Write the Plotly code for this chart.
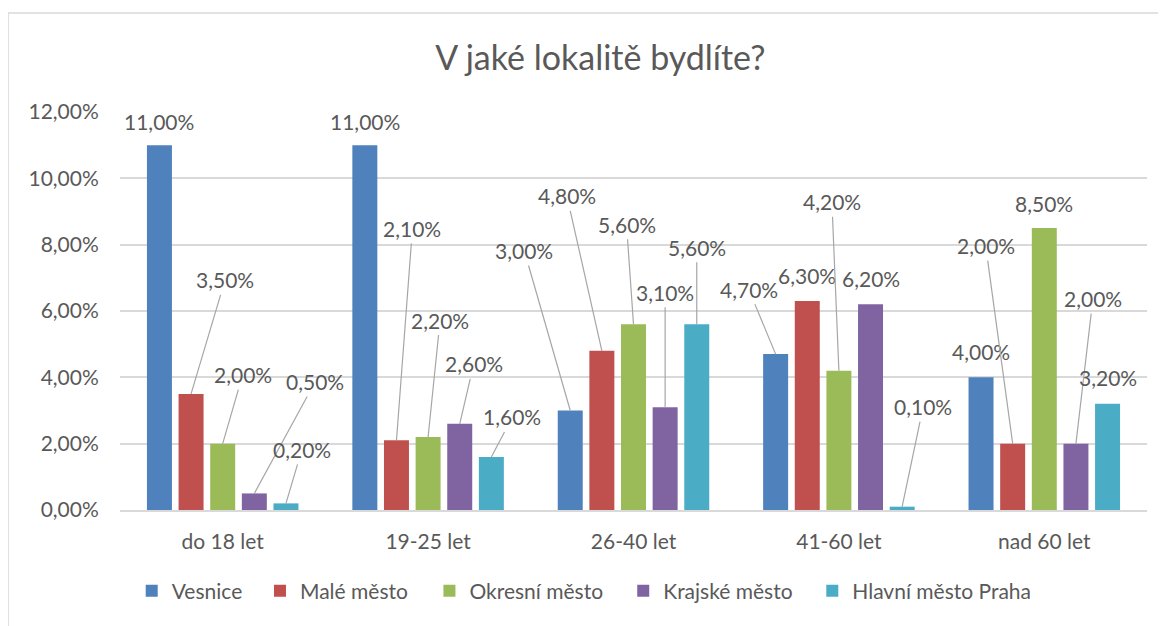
import plotly.graph_objects as go

categories = ["do 18 let", "19-25 let", "26-40 let", "41-60 let", "nad 60 let"]
series_names = ["Vesnice", "Malé město", "Okresní město", "Krajské město", "Hlavní město Praha"]
vesnice = [11.0, 11.0, 3.0, 4.7, 4.0]
male_mesto = [3.5, 2.1, 4.8, 6.3, 2.0]
okresni_mesto = [2.0, 2.2, 5.6, 4.2, 8.5]
krajske_mesto = [0.5, 2.6, 3.1, 6.2, 2.0]
praha = [0.2, 1.6, 5.6, 0.1, 3.2]
series_values = [vesnice, male_mesto, okresni_mesto, krajske_mesto, praha]
colors = ["#4F81BD", "#C0504D", "#9BBB59", "#8064A2", "#4BACC6"]
y_ticks = [0, 2, 4, 6, 8, 10, 12]

# label offsets (pixels, text centre relative to bar top) and leader-line flags
label_offsets = [
    [(0, -24), (0, -24), (-46, -160), (-27, -65), (0, -26)],
    [(34, -114), (16, -212), (-35, -155), (0, -26), (-27, -198)],
    [(20, -69), (12, -117), (-7, -100), (-7, -169), (0, -25)],
    [(61, -112), (14, -60), (0, -115), (0, -26), (17, -145)],
    [(16, -54), (21, -40), (0, -77), (21, -100), (0, -26)],
]
leader = [
    [False, False, True, True, False],
    [True, True, True, False, True],
    [True, True, True, True, False],
    [True, True, True, False, True],
    [True, True, True, True, False],
]
# legend entry positions (paper x of each legend box)
legend_x = [0.0114, 0.1363, 0.3013, 0.4900, 0.6741]

FONT = "Lato"
TXT = "#595959"
bargap = 0.23
bargroupgap = 0.21

def fmt(v):
    return f"{v:.2f}".replace(".", ",") + "%"

fig = go.Figure()
xs = list(range(len(categories)))
legend_ids = ["legend"] + [f"legend{k}" for k in range(2, len(series_names) + 1)]
for name, vals, col, lid in zip(series_names, series_values, colors, legend_ids):
    fig.add_trace(go.Bar(x=xs, y=vals, name=name, legend=lid, showlegend=True,
                         marker=dict(color=col, line=dict(width=0))))

n = len(series_names)
slot = (1 - bargap) / n
annotations = []
for j, vals in enumerate(series_values):
    for i, v in enumerate(vals):
        xc = i - (1 - bargap) / 2 + slot * (j + 0.5)
        ax, ay = label_offsets[j][i]
        annotations.append(dict(
            x=xc, y=v, xref="x", yref="y", text=fmt(v),
            showarrow=True, ax=ax, ay=ay, arrowhead=0, arrowwidth=1.2, standoff=0,
            arrowcolor="#A6A6A6" if leader[j][i] else "rgba(0,0,0,0)",
            font=dict(family=FONT, size=21, color=TXT), borderpad=2,
        ))

legend_common = dict(orientation="h", xanchor="left", y=-0.2035, yanchor="middle",
                     font=dict(family=FONT, size=21, color=TXT), itemwidth=30,
                     bgcolor="rgba(0,0,0,0)", borderwidth=0)
legends = {}
for lid, lx in zip(legend_ids, legend_x):
    legends[lid] = dict(legend_common, x=lx)

fig.update_layout(
    width=1166, height=626,
    showlegend=True,
    margin=dict(l=112, r=27, t=104, b=124, autoexpand=False),
    paper_bgcolor="white", plot_bgcolor="white",
    barmode="group", bargap=bargap, bargroupgap=bargroupgap,
    font=dict(family=FONT, color=TXT, size=21),
    title=dict(text="V jaké lokalitě bydlíte?", x=0.508, xref="container", xanchor="center",
               y=0.92, yref="container", yanchor="middle",
               font=dict(family=FONT, size=34, color=TXT)),
    xaxis=dict(tickvals=xs, ticktext=categories, range=[-0.5, len(categories) - 0.5],
               showgrid=False, zeroline=False, showline=True, linecolor="#D9D9D9", linewidth=1.5,
               ticks="outside", ticklen=12, tickcolor="rgba(0,0,0,0)",
               tickfont=dict(family=FONT, size=21, color=TXT)),
    yaxis=dict(range=[0, 12], tickvals=y_ticks, ticktext=[fmt(t) for t in y_ticks],
               showgrid=True, gridcolor="#D9D9D9", gridwidth=1.5, zeroline=False,
               ticks="outside", ticklen=16, tickcolor="rgba(0,0,0,0)",
               tickfont=dict(family=FONT, size=21, color=TXT)),
    annotations=annotations,
    shapes=[dict(type="rect", xref="paper", yref="paper", x0=-0.109, x1=1.03, y0=-0.35, y1=1.2487,
                 line=dict(color="#D9D9D9", width=1.5), fillcolor="rgba(0,0,0,0)", layer="below")],
    **legends,
)

fig.write_html("out.html")
